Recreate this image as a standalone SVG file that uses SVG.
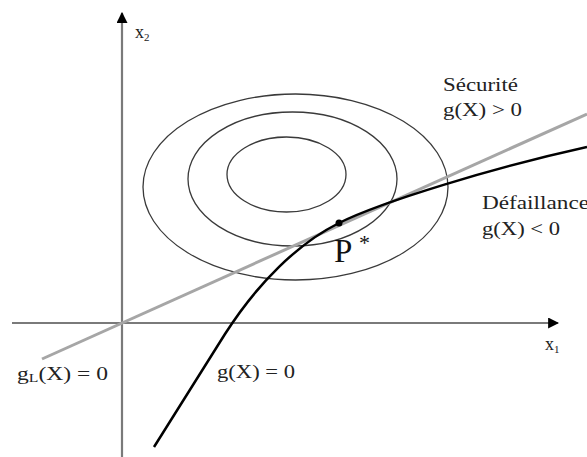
<svg xmlns="http://www.w3.org/2000/svg" width="587" height="457" viewBox="0 0 587 457">
<defs>
<style>
.lbl{font-family:"Liberation Serif","Times New Roman",serif;font-size:18px;fill:#222}
.axis{stroke:#7a7a7a;stroke-width:2.2;fill:none}
.iso{stroke:#3a3a3a;stroke-width:1.3;fill:none}
</style>
<marker id="arr" viewBox="0 0 10 10" refX="9" refY="5" markerWidth="11" markerHeight="11" markerUnits="userSpaceOnUse" orient="auto">
<path d="M0,0 L10,5 L0,10 z" fill="#000"/>
</marker>
</defs>
<rect width="587" height="457" fill="#fff"/>
<g id="contours">
<ellipse class="iso" cx="295.5" cy="187" rx="152.5" ry="93"/>
<ellipse class="iso" cx="292.5" cy="179" rx="104.5" ry="67"/>
<ellipse class="iso" cx="286.5" cy="174.5" rx="59.5" ry="37.5"/>
</g>
<g id="connectors">
<line class="axis" x1="12" y1="323" x2="558" y2="323" marker-end="url(#arr)"/>
<line class="axis" x1="122" y1="457" x2="122" y2="13" marker-end="url(#arr)"/>
<line x1="42" y1="359" x2="587" y2="114" stroke="#a6a6a6" stroke-width="3"/>
<path d="M154,447 L225,334 C258.1,282.4 298,243.5 339,223 C381.2,201.9 492.8,167.7 587,147" fill="none" stroke="#000" stroke-width="2.5"/>
</g>
<g id="point">
<circle cx="339" cy="223" r="3.5" fill="#000"/>
<text x="334" y="262" font-family="Liberation Serif, serif" font-size="33" fill="#111">P</text>
<text x="359" y="250" font-family="Liberation Serif, serif" font-size="22" fill="#111">*</text>
</g>
<g id="labels">
<text class="lbl" x="135" y="38" font-size="15">x<tspan font-size="11" dy="3">2</tspan></text>
<text class="lbl" x="545" y="350" font-size="15">x<tspan font-size="11" dy="3">1</tspan></text>
<text class="lbl" x="443" y="91" textLength="75" lengthAdjust="spacingAndGlyphs">Sécurité</text>
<text class="lbl" x="443" y="116" textLength="79" lengthAdjust="spacingAndGlyphs">g(X) &gt; 0</text>
<text class="lbl" x="482" y="209" textLength="107" lengthAdjust="spacingAndGlyphs">Défaillance</text>
<text class="lbl" x="482" y="235" textLength="78" lengthAdjust="spacingAndGlyphs">g(X) &lt; 0</text>
<text class="lbl" x="17" y="380" textLength="91" lengthAdjust="spacingAndGlyphs">g<tspan font-size="12" dy="2">L</tspan><tspan dy="-2">(X) = 0</tspan></text>
<text class="lbl" x="217" y="378" textLength="78" lengthAdjust="spacingAndGlyphs">g(X) = 0</text>
</g>
</svg>
